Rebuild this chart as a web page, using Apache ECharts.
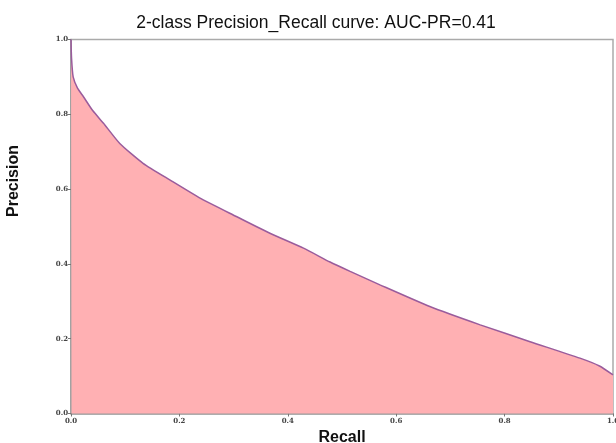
<!DOCTYPE html>
<html>
<head>
<meta charset="utf-8">
<script src="https://cdn.jsdelivr.net/npm/echarts@6/dist/echarts.min.js"></script>
<style>html,body{margin:0;padding:0;background:#fff;}#c{width:616px;height:443px;}</style>
</head>
<body>
<div id="c"></div>
<script>
const titleText = '2-class Precision_Recall curve: AUC-PR=0.41';
const xAxisName = 'Recall';
const yAxisName = 'Precision';
const recall = [0, 0.001, 0.004, 0.012, 0.023, 0.04, 0.06, 0.09, 0.133, 0.183, 0.244, 0.306, 0.367, 0.429, 0.478, 0.515, 0.57, 0.662, 0.755, 0.847, 0.939, 0.975, 1.0];
const precision = [1.0, 0.95, 0.90, 0.87, 0.847, 0.81, 0.776, 0.722, 0.669, 0.624, 0.571, 0.526, 0.482, 0.442, 0.405, 0.38, 0.344, 0.286, 0.237, 0.192, 0.148, 0.127, 0.103];

const chart = echarts.init(document.getElementById('c'), null, {renderer: 'canvas'});
const labelStyle = {fontFamily: 'DejaVu Serif', fontSize: 7, fontWeight: 'bold', color: '#444'};
chart.setOption({
  animation: false,
  backgroundColor: '#fff',
  title: {
    text: titleText, left: 311, textAlign: 'center', top: 9,
    textStyle: {fontFamily: 'Liberation Sans', fontSize: 17.5, fontWeight: 'normal', color: '#111'}
  },
  grid: {left: 71, right: 3, top: 39.5, bottom: 29.5, outerBoundsMode: 'none', containLabel: false, show: true, borderColor: '#aaa', borderWidth: 1.5, backgroundColor: '#fff'},
  xAxis: {
    type: 'value', min: 0, max: 1, interval: 0.2,
    name: xAxisName, nameLocation: 'middle', nameGap: 12,
    nameTextStyle: {fontFamily: 'Liberation Sans', fontSize: 16, fontWeight: 'bold', color: '#111'},
    axisLine: {show: true, lineStyle: {color: '#999', width: 1.5}},
    axisTick: {show: true, length: 3, lineStyle: {color: '#777'}},
    axisLabel: Object.assign({margin: 4, formatter: v => v.toFixed(1)}, labelStyle),
    splitLine: {show: false}
  },
  yAxis: {
    type: 'value', min: 0, max: 1, interval: 0.2,
    axisLine: {show: true, lineStyle: {color: '#999', width: 1.5}},
    axisTick: {show: true, length: 3, lineStyle: {color: '#777'}},
    axisLabel: Object.assign({margin: 3, formatter: v => v.toFixed(1)}, labelStyle),
    splitLine: {show: false}
  },
  graphic: [{
    type: 'text', x: 14, y: 181, rotation: Math.PI / 2,
    style: {text: yAxisName, fontFamily: 'Liberation Sans', fontSize: 16, fontWeight: 'bold', fill: '#111', align: 'center', verticalAlign: 'middle'}
  }],
  series: [{
    type: 'line',
    data: recall.map((r, i) => [r, precision[i]]),
    showSymbol: false,
    smooth: 0.2,
    lineStyle: {color: '#9a5c9c', width: 1.5},
    areaStyle: {color: '#ffb0b3', opacity: 1}
  }]
});
</script>
</body>
</html>
